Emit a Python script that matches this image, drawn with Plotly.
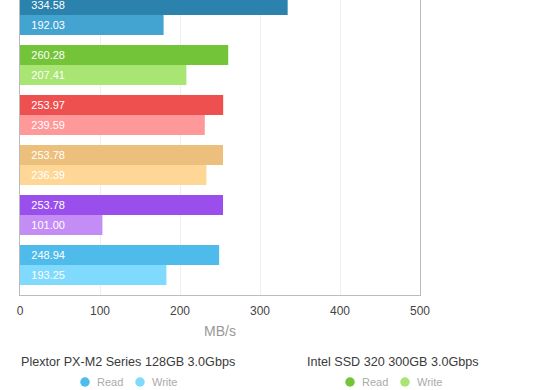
import plotly.graph_objects as go

# Data (bottom group first, top group last)
drives = ["Plextor PX-M2 Series 128GB 3.0Gbps", "Drive E", "Drive D", "Drive C",
          "Intel SSD 320 300GB 3.0Gbps", "Drive A"]
read_vals = [248.94, 253.78, 253.78, 253.97, 260.28, 334.58]
read_labels = ["248.94", "253.78", "253.78", "253.97", "260.28", "334.58"]
# write bar lengths as drawn in the picture, and the labels printed on them
write_vals = [183.0, 103.0, 233.0, 231.0, 208.0, 179.5]
write_labels = ["193.25", "101.00", "236.39", "239.59", "207.41", "192.03"]
read_colors = ["#4fbbeb", "#9a4fec", "#ecbf7c", "#ee5050", "#74c43a", "#2a82ad"]
write_colors = ["#80dafd", "#c48cf5", "#fed797", "#ff9898", "#a8e572", "#43a3d1"]
x_ticks = [0, 100, 200, 300, 400, 500]
measure_names = ["Read", "Write"]
legend_drives = [0, 4]  # indices of drives shown in the legend

FONT = "Liberation Sans, Arial, Helvetica, sans-serif"
label_tpl = "\u00a0\u00a0\u2009%{text}"

fig = go.Figure()
fig.add_trace(go.Bar(
    y=drives, x=write_vals, text=write_labels, orientation="h", name="Write",
    marker=dict(color=write_colors, line=dict(width=0)),
    texttemplate=label_tpl, textposition="inside", insidetextanchor="start",
    insidetextfont=dict(color="white", size=11, family=FONT),
    showlegend=False, hoverinfo="text"))
fig.add_trace(go.Bar(
    y=drives, x=read_vals, text=read_labels, orientation="h", name="Read",
    marker=dict(color=read_colors, line=dict(width=0)),
    texttemplate=label_tpl, textposition="inside", insidetextanchor="start",
    insidetextfont=dict(color="white", size=11, family=FONT),
    showlegend=False, hoverinfo="text"))

# Legend built from annotations + dot swatches (group title + coloured dot items)
PLOT_L, PLOT_W, PLOT_B = 20, 400, 295


def px_x(p):
    return (p - PLOT_L) / PLOT_W


def px_y(p):
    return (PLOT_B - p) / PLOT_B


legend_layout = [  # (title centre x, read dot x, write dot x)
    (128, 85, 140),
    (393, 350, 405),
]
annotations = []
shapes = []
for (cx, rx, wx), di in zip(legend_layout, legend_drives):
    annotations.append(dict(
        text=drives[di], x=px_x(cx), y=px_y(362), xref="paper", yref="paper",
        xanchor="center", yanchor="middle", showarrow=False,
        font=dict(family=FONT, size=12.6, color="#3a3a3a")))
    for dx, lbl, col in ((rx, measure_names[0], read_colors[di]),
                         (wx, measure_names[1], write_colors[di])):
        shapes.append(dict(
            type="circle", xref="paper", yref="paper",
            xsizemode="pixel", ysizemode="pixel",
            xanchor=px_x(dx), yanchor=px_y(382),
            x0=-4.75, x1=4.75, y0=-4.75, y1=4.75,
            fillcolor=col, line=dict(width=0), layer="above"))
        annotations.append(dict(
            text=lbl, x=px_x(dx + 10), y=px_y(382), xref="paper", yref="paper",
            xanchor="left", yanchor="middle", showarrow=False,
            font=dict(family=FONT, size=11, color="#aaaaaa")))

fig.update_layout(
    width=560, height=390,
    margin=dict(l=20, r=140, t=0, b=95, autoexpand=False),
    paper_bgcolor="white", plot_bgcolor="white",
    barmode="group", bargap=0.2, bargroupgap=0,
    font=dict(family=FONT, color="#444444"),
    showlegend=False,
    xaxis=dict(range=[0, 500], tickvals=x_ticks, showgrid=True, gridcolor="#eeeeee",
               gridwidth=1, zeroline=False, showline=True, linecolor="#bbbbbb",
               linewidth=1, ticks="", tickfont=dict(size=12, color="#444444"),
               ticklabelstandoff=5,
               title=dict(text="MB/s", font=dict(size=14, color="#999999"), standoff=8),
               fixedrange=True),
    yaxis=dict(type="category", range=[-0.6, 5.3], showticklabels=False, showgrid=False,
               zeroline=False, showline=True, mirror=True, linecolor="#bbbbbb",
               linewidth=1, ticks="", fixedrange=True),
    annotations=annotations,
    shapes=shapes,
)

fig.write_html("out.html", config={"displayModeBar": False},
               post_script="document.body.style.margin='0';document.body.style.padding='0';")
